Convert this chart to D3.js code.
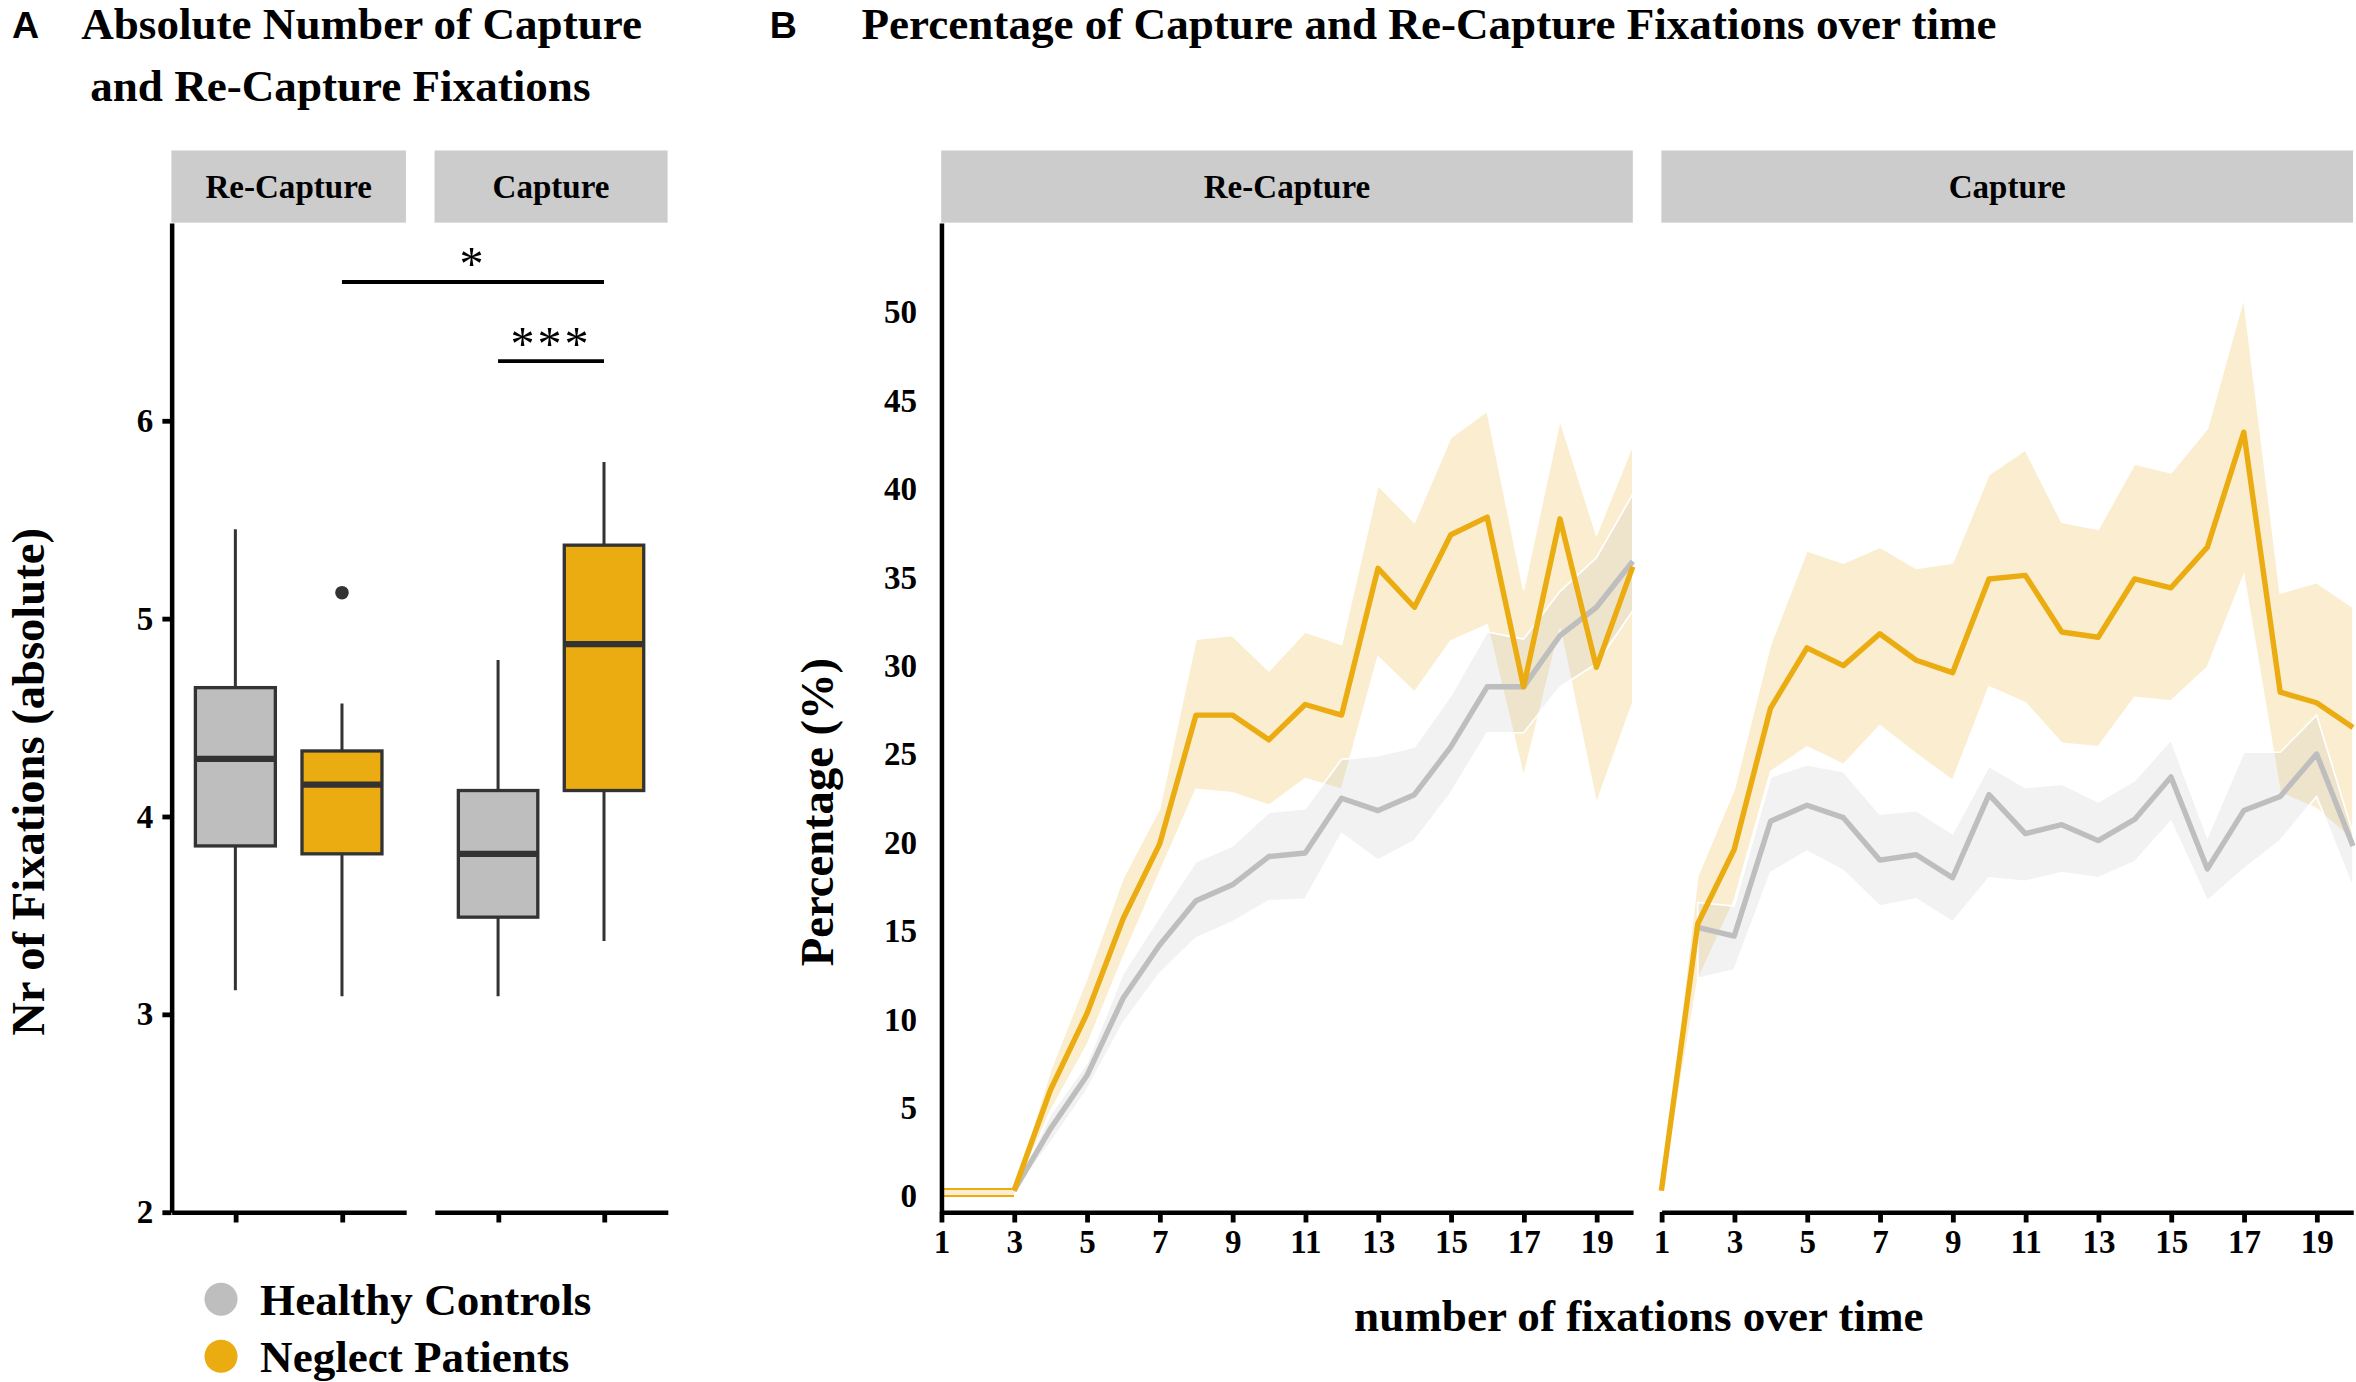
<!DOCTYPE html>
<html>
<head>
<meta charset="utf-8">
<script src="https://cdnjs.cloudflare.com/ajax/libs/d3/7.8.5/d3.min.js"></script>
<style>
body { margin: 0; background: #fff; }
svg text { font-family: "Liberation Serif", "Times New Roman", serif; font-weight: bold; fill: #000; }
</style>
</head>
<body>
<div id="chart"></div>
<script>
// ---------- data ----------
var groups = ["Healthy Controls", "Neglect Patients"];
var conditions = ["Re-Capture", "Capture"];
var groupColors = ["#bebebe", "#ebac12"];

// panel A boxplot stats, order: Re-Capture HC, Re-Capture NP, Capture HC, Capture NP
var boxLower  = [3.12, 3.09, 3.09, 3.37];
var boxQ1     = [3.85, 3.81, 3.49, 4.13];
var boxMedian = [4.29, 4.16, 3.81, 4.87];
var boxQ3     = [4.65, 4.33, 4.13, 5.37];
var boxUpper  = [5.45, 4.57, 4.79, 5.79];
var boxOutliers = [[], [5.13], [], []];
var absTicks = [2, 3, 4, 5, 6];

// significance brackets
var sigFrom  = [["Re-Capture", "Neglect Patients"], ["Capture", "Healthy Controls"]];
var sigTo    = [["Capture", "Neglect Patients"], ["Capture", "Neglect Patients"]];
var sigLevel = [6.70, 6.30];
var sigLabel = ["*", "***"];

// panel B: percentage per fixation number
var fixationNr = [1, 2, 3, 4, 5, 6, 7, 8, 9, 10, 11, 12, 13, 14, 15, 16, 17, 18, 19, 20];
var fixTicks = [1, 3, 5, 7, 9, 11, 13, 15, 17, 19];
var pctTicks = [0, 5, 10, 15, 20, 25, 30, 35, 40, 45, 50];

var recapHCMean = [null, null, 0.3, 3.8, 6.8, 11.2, 14.2, 16.7, 17.6, 19.2, 19.4, 22.5, 21.8, 22.7, 25.4, 28.8, 28.8, 31.7, 33.3, 35.9];
var recapHCLow  = [null, null, 0.3, 3.0, 6.0, 9.8, 12.6, 14.6, 15.5, 16.7, 16.8, 20.5, 19.0, 20.1, 22.8, 26.2, 26.2, 28.8, 30.1, 33.1];
var recapHCHigh = [null, null, 0.3, 4.6, 7.5, 12.6, 15.8, 18.9, 19.8, 21.7, 21.9, 24.7, 24.9, 25.4, 28.3, 31.9, 31.5, 34.2, 36.1, 39.7];

var recapNPMean = [null, null, 0.3, 6.0, 10.3, 15.7, 19.9, 27.2, 27.2, 25.8, 27.8, 27.2, 35.5, 33.3, 37.4, 38.4, 28.8, 38.3, 29.9, 35.6];
var recapNPLow  = [0, 0, 0, 4.8, 8.5, 13.5, 18.3, 23.0, 22.8, 22.1, 23.6, 23.0, 30.5, 28.5, 31.4, 32.3, 23.7, 32.1, 22.2, 27.9];
var recapNPHigh = [0.4, 0.4, 0.4, 7.1, 12.3, 18.0, 21.9, 31.5, 31.7, 29.7, 31.9, 31.2, 40.2, 38.1, 42.9, 44.4, 34.3, 43.9, 37.4, 42.5];

var capHCMean = [null, 15.2, 14.7, 21.2, 22.1, 21.4, 19.0, 19.3, 18.0, 22.7, 20.5, 21.0, 20.1, 21.3, 23.7, 18.5, 21.8, 22.6, 25.0, 19.8];
var capHCLow  = [null, 12.3, 12.8, 18.3, 19.5, 18.4, 16.4, 16.8, 15.5, 18.0, 17.8, 18.3, 18.0, 18.9, 21.2, 16.7, 18.5, 20.1, 22.6, 17.4];
var capHCHigh = [null, 16.6, 16.4, 23.7, 24.4, 24.0, 21.6, 21.8, 20.5, 24.3, 23.1, 23.3, 22.3, 23.5, 25.8, 20.3, 25.1, 25.1, 27.2, 20.5];

var capNPMean = [0.3, 15.4, 19.6, 27.6, 31.0, 30.0, 31.8, 30.3, 29.6, 34.9, 35.1, 31.9, 31.6, 34.9, 34.4, 36.7, 43.2, 28.5, 27.9, 26.5];
var capNPLow  = [0, 12.2, 16.7, 24.0, 25.4, 24.4, 26.6, 25.0, 23.5, 28.8, 27.9, 25.6, 25.4, 28.2, 28.0, 29.9, 35.1, 22.8, 21.9, 20.1];
var capNPHigh = [0.5, 18.1, 23.0, 31.2, 36.5, 35.8, 36.7, 35.5, 35.8, 40.8, 42.2, 38.1, 37.7, 41.4, 40.9, 43.4, 50.8, 34.1, 34.7, 33.3];

// ---------- helpers ----------
function series(mean, low, high) {
    return fixationNr.map(function(x, i) {
        return {x: x, mean: mean[i], lo: low[i], hi: high[i]};
    });
}

var lineData = {
    "Re-Capture": [series(recapHCMean, recapHCLow, recapHCHigh), series(recapNPMean, recapNPLow, recapNPHigh)],
    "Capture":    [series(capHCMean, capHCLow, capHCHigh), series(capNPMean, capNPLow, capNPHigh)]
};

var boxes = [];
conditions.forEach(function(c, ci) {
    groups.forEach(function(g, gi) {
        var k = ci * 2 + gi;
        boxes.push({cond: c, group: g, gi: gi, low: boxLower[k], q1: boxQ1[k], med: boxMedian[k],
                    q3: boxQ3[k], high: boxUpper[k], out: boxOutliers[k]});
    });
});

// ---------- svg (layout in 1567 x 919 units, scaled to window) ----------
var svg = d3.select("#chart")
            .append("svg")
            .attr("width", 2356)
            .attr("height", 1382)
            .attr("viewBox", "0 0 1567 919");

var plotTop = 148, plotBottom = 806, stripTop = 100;

// panel letters and titles
svg.append("text").attr("x", 8).attr("y", 25).text("A")
    .style("font-family", "'Liberation Sans', Arial, sans-serif").attr("font-size", 25);
svg.append("text").attr("x", 512).attr("y", 25).text("B")
    .style("font-family", "'Liberation Sans', Arial, sans-serif").attr("font-size", 25);
svg.append("text").attr("x", 54).attr("y", 26).attr("font-size", 30).text("Absolute Number of Capture");
svg.append("text").attr("x", 60).attr("y", 67).attr("font-size", 30).text("and Re-Capture Fixations");
svg.append("text").attr("x", 573).attr("y", 26).attr("font-size", 30).text("Percentage of Capture and Re-Capture Fixations over time");

function strip(x0, x1, label) {
    svg.append("rect")
        .attr("x", x0).attr("y", stripTop)
        .attr("width", x1 - x0).attr("height", plotTop - stripTop)
        .attr("fill", "#cccccc");
    svg.append("text")
        .attr("x", (x0 + x1) / 2).attr("y", 131.5)
        .attr("text-anchor", "middle").attr("font-size", 22)
        .text(label);
}

function styleAxis(g, width) {
    g.select(".domain").attr("stroke", "#000").attr("stroke-width", width);
    g.selectAll(".tick line").attr("stroke", "#000").attr("stroke-width", 3.2);
    g.selectAll(".tick text").attr("font-size", 22).attr("fill", "#000");
}

// ---------- panel A: boxplots ----------
var facetsA = [{cond: "Re-Capture", x0: 114, x1: 270}, {cond: "Capture", x0: 289, x1: 444}];
var yA = d3.scaleLinear().domain([2, 7]).range([plotBottom, plotTop]);
var xA = {};

facetsA.forEach(function(f) {
    strip(f.x0, f.x1, f.cond);
    var xs = d3.scalePoint().domain(groups).range([f.x0, f.x1]).padding(0.6);
    xA[f.cond] = xs;
    var bw = xs.step() * 0.75;

    var g = svg.append("g");
    var b = g.selectAll("g.box")
        .data(boxes.filter(function(d) { return d.cond == f.cond; }))
        .enter()
        .append("g");

    b.append("line")
        .attr("x1", function(d) { return xs(d.group); })
        .attr("x2", function(d) { return xs(d.group); })
        .attr("y1", function(d) { return yA(d.high); })
        .attr("y2", function(d) { return yA(d.low); })
        .attr("stroke", "#333").attr("stroke-width", 2);

    b.append("rect")
        .attr("x", function(d) { return xs(d.group) - bw / 2; })
        .attr("y", function(d) { return yA(d.q3); })
        .attr("width", bw)
        .attr("height", function(d) { return yA(d.q1) - yA(d.q3); })
        .attr("fill", function(d) { return groupColors[d.gi]; })
        .attr("stroke", "#333").attr("stroke-width", 2.2);

    b.append("line")
        .attr("x1", function(d) { return xs(d.group) - bw / 2; })
        .attr("x2", function(d) { return xs(d.group) + bw / 2; })
        .attr("y1", function(d) { return yA(d.med); })
        .attr("y2", function(d) { return yA(d.med); })
        .attr("stroke", "#333").attr("stroke-width", 4.2);

    b.selectAll("circle")
        .data(function(d) { return d.out.map(function(v) { return {group: d.group, v: v}; }); })
        .enter()
        .append("circle")
        .attr("cx", function(d) { return xs(d.group); })
        .attr("cy", function(d) { return yA(d.v); })
        .attr("r", 4.5)
        .attr("fill", "#333");

    var ax = svg.append("g")
        .attr("transform", "translate(0," + plotBottom + ")")
        .call(d3.axisBottom(xs).tickFormat("").tickSize(7).tickSizeOuter(0));
    styleAxis(ax, 3);
});

var yAxisA = svg.append("g")
    .attr("transform", "translate(114,0)")
    .call(d3.axisLeft(yA).tickValues(absTicks).tickFormat(d3.format("d")).tickSize(6).tickSizeOuter(0).tickPadding(6));
styleAxis(yAxisA, 3);

svg.append("text")
    .attr("transform", "translate(29," + ((plotTop + plotBottom) / 2 + 43) + ")rotate(-90)")
    .attr("text-anchor", "middle").attr("font-size", 31)
    .text("Nr of Fixations (absolute)");

// significance bars
sigLabel.forEach(function(lab, i) {
    var xa = xA[sigFrom[i][0]](sigFrom[i][1]);
    var xb = xA[sigTo[i][0]](sigTo[i][1]);
    svg.append("line")
        .attr("x1", xa).attr("x2", xb)
        .attr("y1", yA(sigLevel[i])).attr("y2", yA(sigLevel[i]))
        .attr("stroke", "#000").attr("stroke-width", 2.6);
    svg.append("text")
        .attr("x", (xa + xb) / 2).attr("y", yA(sigLevel[i]) - 1)
        .attr("text-anchor", "middle").attr("font-size", 32)
        .style("font-weight", "normal").style("letter-spacing", "2px")
        .text(lab);
});

// legend
var legend = svg.append("g")
    .selectAll("g")
    .data(groups)
    .enter()
    .append("g")
    .attr("transform", function(d, i) { return "translate(147," + (864 + i * 38) + ")"; });
legend.append("circle").attr("r", 11).attr("fill", function(d, i) { return groupColors[i]; });
legend.append("text").attr("x", 26).attr("y", 10.5).attr("font-size", 30).text(function(d) { return d; });

// ---------- panel B: lines with ribbons ----------
var facetsB = [{cond: "Re-Capture", x0: 626, x1: 1086}, {cond: "Capture", x0: 1105, x1: 1565}];
var yB = d3.scaleLinear().domain([-0.9, 55.05]).range([plotBottom, plotTop]);

facetsB.forEach(function(f) {
    strip(f.x0, f.x1, f.cond);
    var xs = d3.scaleLinear().domain([1, 20]).range([f.x0, f.x1]);
    var g = svg.append("g");
    var data = lineData[f.cond];

    var area = d3.area()
        .defined(function(d) { return d.lo != null; })
        .x(function(d) { return xs(d.x); })
        .y0(function(d) { return yB(d.lo); })
        .y1(function(d) { return yB(d.hi); });
    var line = d3.line()
        .defined(function(d) { return d.mean != null; })
        .x(function(d) { return xs(d.x); })
        .y(function(d) { return yB(d.mean); });

    // ribbons: patients first, controls on top
    [1, 0].forEach(function(gi) {
        g.append("path")
            .attr("d", area(data[gi]))
            .attr("fill", groupColors[gi]).attr("fill-opacity", 0.2)
            .attr("stroke", "#fff").attr("stroke-width", 1.1);
    });

    // thin ribbon edges where no mean is drawn yet (patients)
    var np = data[1];
    var first = np.findIndex(function(d) { return d.mean != null; });
    var lead = np.slice(0, first + 1);
    if (lead.length > 1) {
        ["lo", "hi"].forEach(function(k) {
            g.append("path")
                .attr("d", d3.line().x(function(d) { return xs(d.x); }).y(function(d) { return yB(d[k]); })(lead))
                .attr("fill", "none").attr("stroke", groupColors[1]).attr("stroke-width", 1.3);
        });
    }

    [0, 1].forEach(function(gi) {
        g.append("path")
            .attr("d", line(data[gi]))
            .attr("fill", "none")
            .attr("stroke", groupColors[gi]).attr("stroke-width", 3.6)
            .attr("stroke-linejoin", "round");
    });

    var ax = svg.append("g")
        .attr("transform", "translate(0," + plotBottom + ")")
        .call(d3.axisBottom(xs).tickValues(fixTicks).tickFormat(d3.format("d")).tickSize(7).tickSizeOuter(0).tickPadding(5));
    styleAxis(ax, 3);
});

var yAxisB = svg.append("g")
    .attr("transform", "translate(626,0)")
    .call(d3.axisLeft(yB).tickValues(pctTicks).tickFormat(d3.format("d")).tickSize(0).tickSizeOuter(0).tickPadding(16));
styleAxis(yAxisB, 3);

svg.append("text")
    .attr("transform", "translate(554,540)rotate(-90)")
    .attr("text-anchor", "middle").attr("font-size", 31)
    .text("Percentage (%)");

svg.append("text")
    .attr("x", 1090).attr("y", 885)
    .attr("text-anchor", "middle").attr("font-size", 30)
    .text("number of fixations over time");
</script>
</body>
</html>
